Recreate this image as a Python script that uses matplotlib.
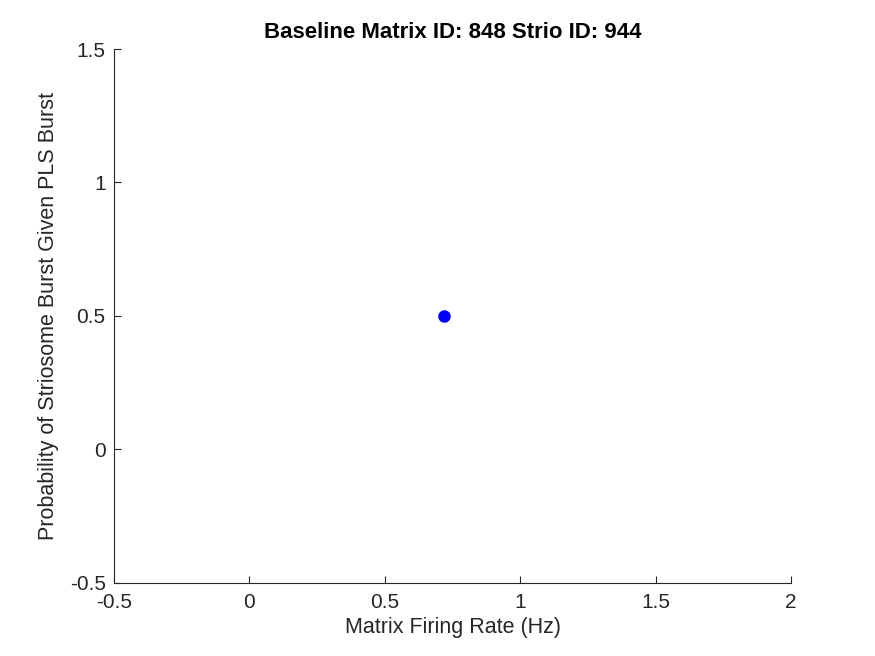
import matplotlib
matplotlib.use("Agg")
import matplotlib.pyplot as plt

x_vals = [0.72]
y_vals = [0.5]
xticks = [-0.5, 0, 0.5, 1, 1.5, 2]
yticks = [-0.5, 0, 0.5, 1, 1.5]
xtick_labels = ["-0.5", "0", "0.5", "1", "1.5", "2"]
ytick_labels = ["-0.5", "0", "0.5", "1", "1.5"]

plt.rcParams['font.family'] = ['Liberation Sans', 'DejaVu Sans']
fig = plt.figure(figsize=(8.75, 6.56), dpi=100)
ax = fig.add_axes([0.1303, 0.1113, 0.7737, 0.814])
ax.plot(x_vals, y_vals, 'o', color='#0000ff', markersize=8)
ax.set_xlim(-0.5, 2)
ax.set_ylim(-0.5, 1.5)
ax.set_xticks(xticks, xtick_labels)
ax.set_yticks(yticks, ytick_labels)
for s in ['top', 'right']:
    ax.spines[s].set_visible(False)
for s in ['left', 'bottom']:
    ax.spines[s].set_color('#262626')
    ax.spines[s].set_linewidth(0.8)
ax.tick_params(axis='both', which='major', direction='in', length=5, colors='#262626', labelsize=15, width=0.8)
ax.tick_params(axis='x', pad=7)
ax.tick_params(axis='y', pad=6)
ax.set_xlabel("Matrix Firing Rate (Hz)", fontsize=15.5, color='#262626', labelpad=4)
ax.set_ylabel("Probability of Striosome Burst Given PLS Burst", fontsize=15.5, color='#262626', labelpad=8)
ax.set_title("Baseline Matrix ID: 848 Strio ID: 944", fontsize=16, fontweight='bold', pad=8)
fig.savefig("out.png", dpi=100)
